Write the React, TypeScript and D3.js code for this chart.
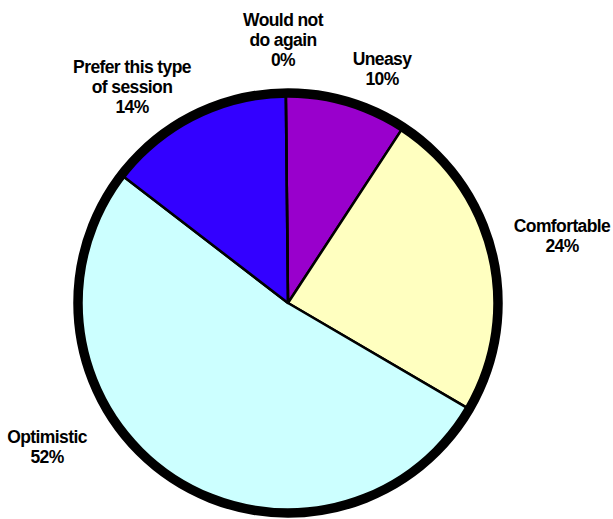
import React from "react";
import * as d3 from "d3";

const categories = ["Would not do again", "Uneasy", "Comfortable", "Optimistic", "Prefer this type of session"];
// slice sizes (percent)
const values = [0, 9.4, 24.2, 52.0, 14.4];
const labelLines = [
  ["Would not", "do again", "0%"],
  ["Uneasy", "10%"],
  ["Comfortable", "24%"],
  ["Optimistic", "52%"],
  ["Prefer this type", "of session", "14%"],
];
const colors = ["#FFFFFF", "#9900CC", "#FFFFC0", "#CCFFFF", "#3300FF"];

// layout (label block anchor: center x, first baseline y)
const labelLayout: [number, number][] = [
  [283, 26],
  [382, 65],
  [562, 232],
  [47, 443],
  [132, 73],
];

const W = 613, H = 519;
const cx = 288, cy = 303, R = 210;
const startAngle = (-0.6 * Math.PI) / 180;

export default function App() {
  const pie = d3
    .pie<number>()
    .sort(null)
    .value((d) => d)
    .startAngle(startAngle)
    .endAngle(startAngle + 2 * Math.PI);
  const arcs = pie(values);
  const arc = d3.arc<d3.PieArcDatum<number>>().innerRadius(0).outerRadius(R);
  return (
    <svg width={W} height={H} style={{ position: "absolute", left: 0, top: 0, background: "#fff" }}>
      <g transform={`translate(${cx},${cy})`}>
        {arcs.map((a, i) => (
          <path key={categories[i]} d={arc(a) || ""} fill={colors[i]} stroke="#000" strokeWidth={2.5} strokeLinejoin="round" />
        ))}
        {arcs
          .filter((a) => a.endAngle - a.startAngle === 0)
          .map((a, i) => (
            <line
              key={"z" + i}
              x1={0}
              y1={0}
              x2={R * Math.sin(a.startAngle)}
              y2={-R * Math.cos(a.startAngle)}
              stroke="#000"
              strokeWidth={2.5}
            />
          ))}
        <circle r={R} fill="none" stroke="#000" strokeWidth={9.5} />
      </g>
      {labelLines.map((lines, i) => (
        <text
          key={categories[i]}
          x={labelLayout[i][0]}
          y={labelLayout[i][1]}
          textAnchor="middle"
          fontFamily="'Liberation Sans', Arial, sans-serif"
          fontWeight="bold"
          fontSize={17.5}
          letterSpacing={-0.6}
          fill="#000"
        >
          {lines.map((l, j) => (
            <tspan key={j} x={labelLayout[i][0]} dy={j === 0 ? 0 : 20}>
              {l}
            </tspan>
          ))}
        </text>
      ))}
    </svg>
  );
}
